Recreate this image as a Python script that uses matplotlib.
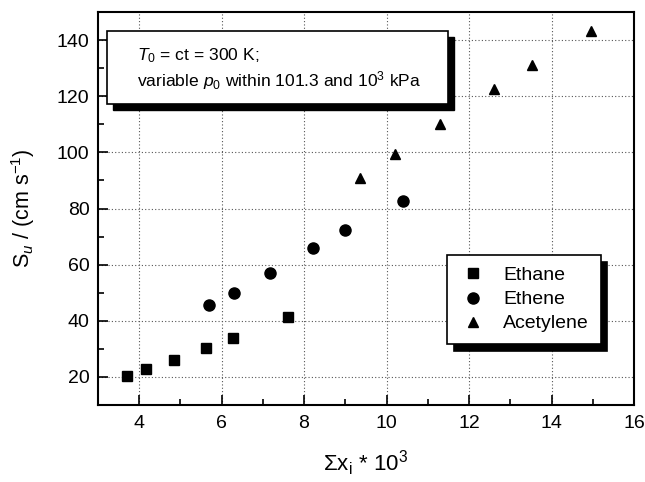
import matplotlib
matplotlib.use("Agg")
import matplotlib.pyplot as plt
from matplotlib.patches import Rectangle
from matplotlib.ticker import MultipleLocator

plt.rcParams['font.family'] = ['Liberation Sans', 'DejaVu Sans']
plt.rcParams['mathtext.fontset'] = 'custom'
plt.rcParams['mathtext.rm'] = 'Liberation Sans'
plt.rcParams['mathtext.it'] = 'Liberation Sans:italic'
plt.rcParams['mathtext.bf'] = 'Liberation Sans:bold'

# data
ethane_x = [3.72, 4.18, 4.85, 5.63, 6.27, 7.61]
ethane_y = [20.3, 22.7, 25.9, 30.2, 33.8, 41.2]
ethene_x = [5.69, 6.31, 7.17, 8.22, 9.00, 10.41]
ethene_y = [45.5, 50.0, 57.0, 65.8, 72.2, 82.8]
acet_x = [9.35, 10.20, 11.30, 12.61, 13.52, 14.96]
acet_y = [91.0, 99.3, 110.2, 122.7, 131.2, 143.1]

W, H = 645, 482
fig = plt.figure(figsize=(W / 100, H / 100), dpi=100)
L, R, T, B = 97.8, 634, 12, 405
ax = fig.add_axes([L / W, 1 - B / H, (R - L) / W, (B - T) / H])

ax.plot(ethane_x, ethane_y, 's', color='k', ms=7.5, label='Ethane')
ax.plot(ethene_x, ethene_y, 'o', color='k', ms=8, label='Ethene')
ax.plot(acet_x, acet_y, '^', color='k', ms=7.5, label='Acetylene')

ax.set_xlim(3, 16)
ax.set_ylim(10, 150)
ax.xaxis.set_major_locator(MultipleLocator(2))
ax.xaxis.set_minor_locator(MultipleLocator(1))
ax.yaxis.set_major_locator(MultipleLocator(20))
ax.yaxis.set_minor_locator(MultipleLocator(10))
ax.set_xticks([4, 6, 8, 10, 12, 14, 16])
ax.set_yticks([20, 40, 60, 80, 100, 120, 140])
ax.tick_params(which='major', direction='in', length=7, width=1.2, labelsize=14)
ax.tick_params(axis='x', which='major', pad=7.5)
ax.tick_params(axis='y', which='major', pad=6)
ax.tick_params(which='minor', direction='in', length=4, width=1.2)
for s in ax.spines.values():
    s.set_linewidth(1.5)
ax.grid(True, which='major', linestyle=(0, (1, 2)), color='#555555', linewidth=0.8)

ax.set_xlabel(r'$\Sigma$x$_\mathrm{i}$ * 10$^3$', fontsize=16)
ax.set_ylabel(r'S$_u$ / (cm s$^{-1}$)', fontsize=15.5)
ax.xaxis.set_label_coords(0.5, (B - 448) / (B - T))
ax.yaxis.set_label_coords((37 - L) / (R - L), 0.5)

# text box with shadow (pixel positions converted to axes fraction)
def ax_frac(px, py):
    return (px - L) / (R - L), (B - py) / (B - T)

bx0, by0 = ax_frac(106.7, 104)
bx1, by1 = ax_frac(448.3, 30.7)
sx, sy = ax_frac(106.7 + 6, 104 + 6)
ax.add_patch(Rectangle((sx, sy), bx1 - bx0, by1 - by0, transform=ax.transAxes,
                       facecolor='k', edgecolor='k', zorder=5))
ax.add_patch(Rectangle((bx0, by0), bx1 - bx0, by1 - by0, transform=ax.transAxes,
                       facecolor='white', edgecolor='k', linewidth=1.2, zorder=6))
tx, ty1 = ax_frac(137, 56)
_, ty2 = ax_frac(137, 81)
ax.text(tx, ty1, r'$T_{\mathit{0}}$ = ct = 300 K;', transform=ax.transAxes,
        fontsize=12.6, va='center', ha='left', zorder=7)
ax.text(tx, ty2, r'variable $p_{\mathit{0}}$ within 101.3 and 10$^3$ kPa',
        transform=ax.transAxes, fontsize=12.6, va='center', ha='left', zorder=7)

lx, ly = ax_frac(446.7, 255)
leg = ax.legend(loc='upper left', bbox_to_anchor=(lx, ly), fontsize=14,
                fancybox=False, edgecolor='k', framealpha=1, borderaxespad=0,
                handlelength=1.5, handletextpad=0.8, labelspacing=0.33, borderpad=0.6,
                shadow={'ox': 5, 'oy': -5, 'facecolor': 'k', 'edgecolor': 'k', 'alpha': 1})
leg.get_frame().set_linewidth(1.2)

fig.savefig('out.png', dpi=100)
